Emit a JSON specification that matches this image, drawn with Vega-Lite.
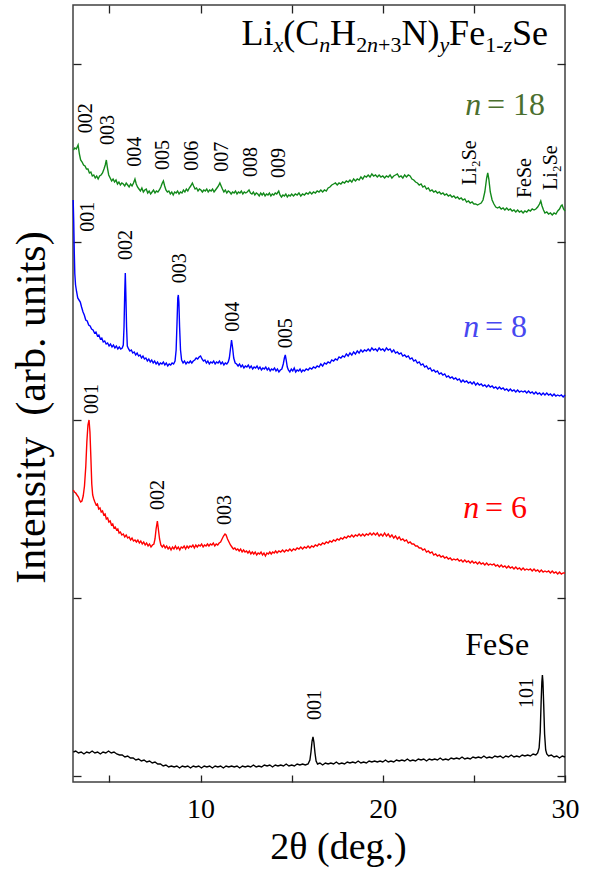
{
  "$schema": "https://vega.github.io/schema/vega-lite/v6.json",
  "width": 492,
  "height": 777,
  "autosize": {"type": "none"},
  "padding": {"left": 73, "top": 5, "right": 25, "bottom": 91},
  "background": "white",
  "config": {
    "view": {"stroke": "#404040", "strokeWidth": 1.5},
    "font": "Liberation Serif",
    "text": {"font": "Liberation Serif"},
    "axis": {"grid": false, "domain": false, "tickColor": "#222", "tickWidth": 1.3, "labelColor": "#000", "titleColor": "#000", "labelFont": "Liberation Serif", "titleFont": "Liberation Serif", "titleFontWeight": "normal"}
  },
  "datasets": {
    "xrd": [
{"s":"n18","x":3.02,"y":632},{"s":"n18","x":3.10,"y":634},{"s":"n18","x":3.18,"y":633},{"s":"n18","x":3.28,"y":637},{"s":"n18","x":3.35,"y":628},{"s":"n18","x":3.42,"y":622},{"s":"n18","x":3.50,"y":620},{"s":"n18","x":3.58,"y":617},{"s":"n18","x":3.66,"y":616},{"s":"n18","x":3.74,"y":613},{"s":"n18","x":3.82,"y":613},{"s":"n18","x":3.90,"y":609},{"s":"n18","x":3.98,"y":610},{"s":"n18","x":4.06,"y":606},{"s":"n18","x":4.14,"y":607},{"s":"n18","x":4.22,"y":604},{"s":"n18","x":4.30,"y":606},{"s":"n18","x":4.38,"y":603},{"s":"n18","x":4.46,"y":606},{"s":"n18","x":4.54,"y":607},{"s":"n18","x":4.62,"y":609},{"s":"n18","x":4.70,"y":613},{"s":"n18","x":4.77,"y":617},{"s":"n18","x":4.83,"y":622},{"s":"n18","x":4.89,"y":614},{"s":"n18","x":4.96,"y":607},{"s":"n18","x":5.04,"y":604},{"s":"n18","x":5.12,"y":601},{"s":"n18","x":5.20,"y":603},{"s":"n18","x":5.28,"y":600},{"s":"n18","x":5.36,"y":602},{"s":"n18","x":5.44,"y":598},{"s":"n18","x":5.52,"y":600},{"s":"n18","x":5.60,"y":597},{"s":"n18","x":5.68,"y":599},{"s":"n18","x":5.76,"y":598},{"s":"n18","x":5.84,"y":596},{"s":"n18","x":5.92,"y":599},{"s":"n18","x":6.00,"y":597},{"s":"n18","x":6.08,"y":595},{"s":"n18","x":6.16,"y":598},{"s":"n18","x":6.24,"y":596},{"s":"n18","x":6.32,"y":599},{"s":"n18","x":6.40,"y":603},{"s":"n18","x":6.47,"y":598},{"s":"n18","x":6.54,"y":595},{"s":"n18","x":6.62,"y":593},{"s":"n18","x":6.70,"y":591},{"s":"n18","x":6.78,"y":594},{"s":"n18","x":6.86,"y":590},{"s":"n18","x":6.94,"y":592},{"s":"n18","x":7.02,"y":593},{"s":"n18","x":7.10,"y":589},{"s":"n18","x":7.18,"y":591},{"s":"n18","x":7.26,"y":588},{"s":"n18","x":7.34,"y":590},{"s":"n18","x":7.42,"y":592},{"s":"n18","x":7.50,"y":589},{"s":"n18","x":7.58,"y":591},{"s":"n18","x":7.66,"y":590},{"s":"n18","x":7.74,"y":592},{"s":"n18","x":7.82,"y":595},{"s":"n18","x":7.90,"y":599},{"s":"n18","x":7.96,"y":601},{"s":"n18","x":8.03,"y":596},{"s":"n18","x":8.10,"y":592},{"s":"n18","x":8.18,"y":590},{"s":"n18","x":8.26,"y":591},{"s":"n18","x":8.34,"y":588},{"s":"n18","x":8.42,"y":590},{"s":"n18","x":8.50,"y":587},{"s":"n18","x":8.58,"y":590},{"s":"n18","x":8.66,"y":589},{"s":"n18","x":8.74,"y":591},{"s":"n18","x":8.82,"y":588},{"s":"n18","x":8.90,"y":590},{"s":"n18","x":8.98,"y":589},{"s":"n18","x":9.06,"y":592},{"s":"n18","x":9.14,"y":590},{"s":"n18","x":9.22,"y":593},{"s":"n18","x":9.30,"y":591},{"s":"n18","x":9.38,"y":594},{"s":"n18","x":9.46,"y":596},{"s":"n18","x":9.55,"y":599},{"s":"n18","x":9.62,"y":596},{"s":"n18","x":9.70,"y":593},{"s":"n18","x":9.78,"y":594},{"s":"n18","x":9.86,"y":591},{"s":"n18","x":9.94,"y":593},{"s":"n18","x":10.02,"y":592},{"s":"n18","x":10.10,"y":590},{"s":"n18","x":10.18,"y":592},{"s":"n18","x":10.26,"y":591},{"s":"n18","x":10.34,"y":593},{"s":"n18","x":10.42,"y":590},{"s":"n18","x":10.50,"y":592},{"s":"n18","x":10.58,"y":591},{"s":"n18","x":10.66,"y":593},{"s":"n18","x":10.74,"y":590},{"s":"n18","x":10.82,"y":592},{"s":"n18","x":10.90,"y":594},{"s":"n18","x":10.98,"y":596},{"s":"n18","x":11.06,"y":599},{"s":"n18","x":11.13,"y":596},{"s":"n18","x":11.20,"y":593},{"s":"n18","x":11.28,"y":590},{"s":"n18","x":11.36,"y":592},{"s":"n18","x":11.44,"y":589},{"s":"n18","x":11.52,"y":591},{"s":"n18","x":11.60,"y":590},{"s":"n18","x":11.68,"y":588},{"s":"n18","x":11.76,"y":590},{"s":"n18","x":11.84,"y":589},{"s":"n18","x":11.92,"y":591},{"s":"n18","x":12.00,"y":588},{"s":"n18","x":12.08,"y":590},{"s":"n18","x":12.16,"y":589},{"s":"n18","x":12.24,"y":591},{"s":"n18","x":12.32,"y":588},{"s":"n18","x":12.40,"y":590},{"s":"n18","x":12.48,"y":589},{"s":"n18","x":12.56,"y":590},{"s":"n18","x":12.66,"y":592},{"s":"n18","x":12.74,"y":589},{"s":"n18","x":12.82,"y":588},{"s":"n18","x":12.90,"y":590},{"s":"n18","x":12.98,"y":587},{"s":"n18","x":13.06,"y":589},{"s":"n18","x":13.14,"y":588},{"s":"n18","x":13.22,"y":586},{"s":"n18","x":13.30,"y":589},{"s":"n18","x":13.38,"y":587},{"s":"n18","x":13.46,"y":589},{"s":"n18","x":13.54,"y":586},{"s":"n18","x":13.62,"y":588},{"s":"n18","x":13.70,"y":587},{"s":"n18","x":13.78,"y":589},{"s":"n18","x":13.86,"y":586},{"s":"n18","x":13.94,"y":588},{"s":"n18","x":14.02,"y":587},{"s":"n18","x":14.10,"y":589},{"s":"n18","x":14.18,"y":588},{"s":"n18","x":14.29,"y":591},{"s":"n18","x":14.36,"y":587},{"s":"n18","x":14.44,"y":585},{"s":"n18","x":14.52,"y":587},{"s":"n18","x":14.60,"y":586},{"s":"n18","x":14.68,"y":588},{"s":"n18","x":14.76,"y":585},{"s":"n18","x":14.84,"y":587},{"s":"n18","x":14.92,"y":586},{"s":"n18","x":15.00,"y":588},{"s":"n18","x":15.10,"y":586},{"s":"n18","x":15.20,"y":588},{"s":"n18","x":15.30,"y":587},{"s":"n18","x":15.40,"y":589},{"s":"n18","x":15.50,"y":586},{"s":"n18","x":15.60,"y":588},{"s":"n18","x":15.70,"y":587},{"s":"n18","x":15.80,"y":589},{"s":"n18","x":15.90,"y":588},{"s":"n18","x":16.00,"y":590},{"s":"n18","x":16.10,"y":588},{"s":"n18","x":16.20,"y":590},{"s":"n18","x":16.30,"y":589},{"s":"n18","x":16.40,"y":591},{"s":"n18","x":16.50,"y":590},{"s":"n18","x":16.60,"y":592},{"s":"n18","x":16.70,"y":590},{"s":"n18","x":16.80,"y":592},{"s":"n18","x":16.90,"y":591},{"s":"n18","x":17.00,"y":594},{"s":"n18","x":17.10,"y":595},{"s":"n18","x":17.20,"y":597},{"s":"n18","x":17.30,"y":598},{"s":"n18","x":17.40,"y":599},{"s":"n18","x":17.50,"y":597},{"s":"n18","x":17.60,"y":599},{"s":"n18","x":17.70,"y":598},{"s":"n18","x":17.80,"y":600},{"s":"n18","x":17.90,"y":599},{"s":"n18","x":18.00,"y":601},{"s":"n18","x":18.10,"y":600},{"s":"n18","x":18.20,"y":602},{"s":"n18","x":18.30,"y":600},{"s":"n18","x":18.40,"y":603},{"s":"n18","x":18.50,"y":601},{"s":"n18","x":18.60,"y":603},{"s":"n18","x":18.70,"y":602},{"s":"n18","x":18.80,"y":605},{"s":"n18","x":18.90,"y":603},{"s":"n18","x":19.00,"y":606},{"s":"n18","x":19.10,"y":605},{"s":"n18","x":19.20,"y":607},{"s":"n18","x":19.30,"y":605},{"s":"n18","x":19.40,"y":608},{"s":"n18","x":19.50,"y":606},{"s":"n18","x":19.60,"y":607},{"s":"n18","x":19.70,"y":605},{"s":"n18","x":19.80,"y":607},{"s":"n18","x":19.90,"y":605},{"s":"n18","x":20.00,"y":606},{"s":"n18","x":20.10,"y":604},{"s":"n18","x":20.20,"y":606},{"s":"n18","x":20.30,"y":605},{"s":"n18","x":20.40,"y":607},{"s":"n18","x":20.50,"y":604},{"s":"n18","x":20.60,"y":606},{"s":"n18","x":20.70,"y":607},{"s":"n18","x":20.80,"y":608},{"s":"n18","x":20.90,"y":605},{"s":"n18","x":21.00,"y":606},{"s":"n18","x":21.10,"y":604},{"s":"n18","x":21.20,"y":607},{"s":"n18","x":21.30,"y":605},{"s":"n18","x":21.40,"y":607},{"s":"n18","x":21.50,"y":606},{"s":"n18","x":21.60,"y":603},{"s":"n18","x":21.70,"y":602},{"s":"n18","x":21.80,"y":600},{"s":"n18","x":21.90,"y":599},{"s":"n18","x":22.00,"y":597},{"s":"n18","x":22.10,"y":598},{"s":"n18","x":22.20,"y":595},{"s":"n18","x":22.30,"y":596},{"s":"n18","x":22.40,"y":593},{"s":"n18","x":22.50,"y":594},{"s":"n18","x":22.60,"y":591},{"s":"n18","x":22.70,"y":592},{"s":"n18","x":22.80,"y":590},{"s":"n18","x":22.90,"y":591},{"s":"n18","x":23.00,"y":589},{"s":"n18","x":23.10,"y":590},{"s":"n18","x":23.20,"y":588},{"s":"n18","x":23.30,"y":589},{"s":"n18","x":23.40,"y":587},{"s":"n18","x":23.50,"y":588},{"s":"n18","x":23.60,"y":586},{"s":"n18","x":23.70,"y":587},{"s":"n18","x":23.80,"y":585},{"s":"n18","x":23.90,"y":586},{"s":"n18","x":24.00,"y":584},{"s":"n18","x":24.10,"y":585},{"s":"n18","x":24.20,"y":583},{"s":"n18","x":24.30,"y":584},{"s":"n18","x":24.40,"y":582},{"s":"n18","x":24.50,"y":583},{"s":"n18","x":24.60,"y":580},{"s":"n18","x":24.70,"y":581},{"s":"n18","x":24.80,"y":579},{"s":"n18","x":24.90,"y":580},{"s":"n18","x":25.00,"y":578},{"s":"n18","x":25.10,"y":578},{"s":"n18","x":25.20,"y":577},{"s":"n18","x":25.30,"y":578},{"s":"n18","x":25.40,"y":579},{"s":"n18","x":25.50,"y":582},{"s":"n18","x":25.60,"y":590},{"s":"n18","x":25.70,"y":604},{"s":"n18","x":25.76,"y":609},{"s":"n18","x":25.82,"y":603},{"s":"n18","x":25.90,"y":590},{"s":"n18","x":26.00,"y":582},{"s":"n18","x":26.10,"y":578},{"s":"n18","x":26.20,"y":575},{"s":"n18","x":26.30,"y":574},{"s":"n18","x":26.40,"y":575},{"s":"n18","x":26.50,"y":573},{"s":"n18","x":26.60,"y":574},{"s":"n18","x":26.70,"y":572},{"s":"n18","x":26.80,"y":574},{"s":"n18","x":26.90,"y":572},{"s":"n18","x":27.00,"y":573},{"s":"n18","x":27.10,"y":571},{"s":"n18","x":27.20,"y":572},{"s":"n18","x":27.30,"y":570},{"s":"n18","x":27.40,"y":572},{"s":"n18","x":27.50,"y":570},{"s":"n18","x":27.60,"y":571},{"s":"n18","x":27.70,"y":569},{"s":"n18","x":27.80,"y":571},{"s":"n18","x":27.90,"y":570},{"s":"n18","x":28.00,"y":572},{"s":"n18","x":28.10,"y":571},{"s":"n18","x":28.20,"y":573},{"s":"n18","x":28.30,"y":572},{"s":"n18","x":28.40,"y":573},{"s":"n18","x":28.50,"y":575},{"s":"n18","x":28.60,"y":578},{"s":"n18","x":28.67,"y":581},{"s":"n18","x":28.74,"y":576},{"s":"n18","x":28.82,"y":572},{"s":"n18","x":28.90,"y":569},{"s":"n18","x":29.00,"y":570},{"s":"n18","x":29.10,"y":568},{"s":"n18","x":29.20,"y":569},{"s":"n18","x":29.30,"y":567},{"s":"n18","x":29.40,"y":569},{"s":"n18","x":29.50,"y":568},{"s":"n18","x":29.60,"y":571},{"s":"n18","x":29.70,"y":573},{"s":"n18","x":29.78,"y":576},{"s":"n18","x":29.84,"y":577},{"s":"n18","x":29.92,"y":573},{"s":"n18","x":30.00,"y":571},

{"s":"n8","x":3.01,"y":582},{"s":"n8","x":3.04,"y":560},{"s":"n8","x":3.07,"y":530},{"s":"n8","x":3.10,"y":508},{"s":"n8","x":3.14,"y":497},{"s":"n8","x":3.20,"y":490},{"s":"n8","x":3.26,"y":484},{"s":"n8","x":3.33,"y":482},{"s":"n8","x":3.40,"y":480},{"s":"n8","x":3.47,"y":475},{"s":"n8","x":3.55,"y":470},{"s":"n8","x":3.62,"y":467},{"s":"n8","x":3.70,"y":462},{"s":"n8","x":3.78,"y":461},{"s":"n8","x":3.86,"y":457},{"s":"n8","x":3.94,"y":456},{"s":"n8","x":4.02,"y":453},{"s":"n8","x":4.10,"y":452},{"s":"n8","x":4.18,"y":449},{"s":"n8","x":4.26,"y":450},{"s":"n8","x":4.34,"y":446},{"s":"n8","x":4.42,"y":447},{"s":"n8","x":4.50,"y":443},{"s":"n8","x":4.58,"y":444},{"s":"n8","x":4.66,"y":440},{"s":"n8","x":4.74,"y":441},{"s":"n8","x":4.82,"y":438},{"s":"n8","x":4.90,"y":439},{"s":"n8","x":4.98,"y":436},{"s":"n8","x":5.06,"y":438},{"s":"n8","x":5.14,"y":435},{"s":"n8","x":5.22,"y":437},{"s":"n8","x":5.30,"y":434},{"s":"n8","x":5.38,"y":436},{"s":"n8","x":5.46,"y":433},{"s":"n8","x":5.54,"y":435},{"s":"n8","x":5.62,"y":433},{"s":"n8","x":5.70,"y":434},{"s":"n8","x":5.76,"y":437},{"s":"n8","x":5.80,"y":455},{"s":"n8","x":5.84,"y":490},{"s":"n8","x":5.87,"y":509},{"s":"n8","x":5.90,"y":488},{"s":"n8","x":5.94,"y":455},{"s":"n8","x":5.98,"y":436},{"s":"n8","x":6.05,"y":433},{"s":"n8","x":6.12,"y":431},{"s":"n8","x":6.20,"y":432},{"s":"n8","x":6.28,"y":429},{"s":"n8","x":6.36,"y":430},{"s":"n8","x":6.44,"y":427},{"s":"n8","x":6.52,"y":429},{"s":"n8","x":6.60,"y":426},{"s":"n8","x":6.68,"y":427},{"s":"n8","x":6.76,"y":424},{"s":"n8","x":6.84,"y":426},{"s":"n8","x":6.92,"y":423},{"s":"n8","x":7.00,"y":424},{"s":"n8","x":7.08,"y":421},{"s":"n8","x":7.16,"y":423},{"s":"n8","x":7.24,"y":420},{"s":"n8","x":7.32,"y":422},{"s":"n8","x":7.40,"y":419},{"s":"n8","x":7.48,"y":421},{"s":"n8","x":7.56,"y":418},{"s":"n8","x":7.64,"y":420},{"s":"n8","x":7.72,"y":417},{"s":"n8","x":7.80,"y":419},{"s":"n8","x":7.88,"y":418},{"s":"n8","x":7.96,"y":420},{"s":"n8","x":8.04,"y":417},{"s":"n8","x":8.12,"y":419},{"s":"n8","x":8.20,"y":416},{"s":"n8","x":8.28,"y":418},{"s":"n8","x":8.36,"y":417},{"s":"n8","x":8.44,"y":419},{"s":"n8","x":8.52,"y":418},{"s":"n8","x":8.60,"y":421},{"s":"n8","x":8.66,"y":432},{"s":"n8","x":8.71,"y":460},{"s":"n8","x":8.75,"y":484},{"s":"n8","x":8.78,"y":487},{"s":"n8","x":8.81,"y":480},{"s":"n8","x":8.85,"y":455},{"s":"n8","x":8.90,"y":432},{"s":"n8","x":8.96,"y":422},{"s":"n8","x":9.04,"y":419},{"s":"n8","x":9.12,"y":421},{"s":"n8","x":9.20,"y":418},{"s":"n8","x":9.28,"y":420},{"s":"n8","x":9.36,"y":419},{"s":"n8","x":9.44,"y":421},{"s":"n8","x":9.52,"y":419},{"s":"n8","x":9.60,"y":421},{"s":"n8","x":9.68,"y":422},{"s":"n8","x":9.76,"y":424},{"s":"n8","x":9.84,"y":423},{"s":"n8","x":9.92,"y":425},{"s":"n8","x":10.00,"y":426},{"s":"n8","x":10.08,"y":423},{"s":"n8","x":10.16,"y":421},{"s":"n8","x":10.24,"y":422},{"s":"n8","x":10.32,"y":419},{"s":"n8","x":10.40,"y":421},{"s":"n8","x":10.48,"y":418},{"s":"n8","x":10.56,"y":420},{"s":"n8","x":10.64,"y":419},{"s":"n8","x":10.72,"y":421},{"s":"n8","x":10.80,"y":418},{"s":"n8","x":10.88,"y":420},{"s":"n8","x":10.96,"y":419},{"s":"n8","x":11.04,"y":421},{"s":"n8","x":11.12,"y":418},{"s":"n8","x":11.20,"y":420},{"s":"n8","x":11.28,"y":417},{"s":"n8","x":11.36,"y":419},{"s":"n8","x":11.44,"y":418},{"s":"n8","x":11.52,"y":420},{"s":"n8","x":11.58,"y":424},{"s":"n8","x":11.64,"y":433},{"s":"n8","x":11.70,"y":442},{"s":"n8","x":11.76,"y":434},{"s":"n8","x":11.82,"y":424},{"s":"n8","x":11.90,"y":419},{"s":"n8","x":11.98,"y":418},{"s":"n8","x":12.06,"y":416},{"s":"n8","x":12.14,"y":418},{"s":"n8","x":12.22,"y":415},{"s":"n8","x":12.30,"y":417},{"s":"n8","x":12.38,"y":414},{"s":"n8","x":12.46,"y":416},{"s":"n8","x":12.54,"y":415},{"s":"n8","x":12.62,"y":417},{"s":"n8","x":12.70,"y":414},{"s":"n8","x":12.78,"y":416},{"s":"n8","x":12.86,"y":413},{"s":"n8","x":12.94,"y":415},{"s":"n8","x":13.02,"y":414},{"s":"n8","x":13.10,"y":416},{"s":"n8","x":13.18,"y":413},{"s":"n8","x":13.26,"y":415},{"s":"n8","x":13.34,"y":412},{"s":"n8","x":13.42,"y":414},{"s":"n8","x":13.50,"y":413},{"s":"n8","x":13.58,"y":415},{"s":"n8","x":13.66,"y":412},{"s":"n8","x":13.74,"y":414},{"s":"n8","x":13.82,"y":411},{"s":"n8","x":13.90,"y":413},{"s":"n8","x":13.98,"y":412},{"s":"n8","x":14.06,"y":414},{"s":"n8","x":14.14,"y":411},{"s":"n8","x":14.22,"y":413},{"s":"n8","x":14.30,"y":410},{"s":"n8","x":14.38,"y":412},{"s":"n8","x":14.46,"y":413},{"s":"n8","x":14.54,"y":418},{"s":"n8","x":14.60,"y":424},{"s":"n8","x":14.65,"y":427},{"s":"n8","x":14.70,"y":422},{"s":"n8","x":14.76,"y":415},{"s":"n8","x":14.82,"y":412},{"s":"n8","x":14.90,"y":410},{"s":"n8","x":14.98,"y":413},{"s":"n8","x":15.06,"y":411},{"s":"n8","x":15.14,"y":414},{"s":"n8","x":15.22,"y":410},{"s":"n8","x":15.30,"y":412},{"s":"n8","x":15.38,"y":411},{"s":"n8","x":15.46,"y":413},{"s":"n8","x":15.54,"y":410},{"s":"n8","x":15.62,"y":412},{"s":"n8","x":15.70,"y":411},{"s":"n8","x":15.80,"y":413},{"s":"n8","x":15.90,"y":412},{"s":"n8","x":16.00,"y":414},{"s":"n8","x":16.10,"y":413},{"s":"n8","x":16.20,"y":415},{"s":"n8","x":16.30,"y":414},{"s":"n8","x":16.40,"y":416},{"s":"n8","x":16.50,"y":415},{"s":"n8","x":16.60,"y":418},{"s":"n8","x":16.70,"y":416},{"s":"n8","x":16.80,"y":419},{"s":"n8","x":16.90,"y":418},{"s":"n8","x":17.00,"y":420},{"s":"n8","x":17.10,"y":419},{"s":"n8","x":17.20,"y":422},{"s":"n8","x":17.30,"y":421},{"s":"n8","x":17.40,"y":423},{"s":"n8","x":17.50,"y":422},{"s":"n8","x":17.60,"y":425},{"s":"n8","x":17.70,"y":424},{"s":"n8","x":17.80,"y":426},{"s":"n8","x":17.90,"y":425},{"s":"n8","x":18.00,"y":428},{"s":"n8","x":18.10,"y":426},{"s":"n8","x":18.20,"y":429},{"s":"n8","x":18.30,"y":427},{"s":"n8","x":18.40,"y":430},{"s":"n8","x":18.50,"y":428},{"s":"n8","x":18.60,"y":431},{"s":"n8","x":18.70,"y":429},{"s":"n8","x":18.80,"y":432},{"s":"n8","x":18.90,"y":430},{"s":"n8","x":19.00,"y":432},{"s":"n8","x":19.10,"y":431},{"s":"n8","x":19.20,"y":433},{"s":"n8","x":19.30,"y":431},{"s":"n8","x":19.40,"y":434},{"s":"n8","x":19.50,"y":432},{"s":"n8","x":19.60,"y":433},{"s":"n8","x":19.70,"y":431},{"s":"n8","x":19.80,"y":434},{"s":"n8","x":19.90,"y":432},{"s":"n8","x":20.00,"y":433},{"s":"n8","x":20.10,"y":431},{"s":"n8","x":20.20,"y":434},{"s":"n8","x":20.30,"y":432},{"s":"n8","x":20.40,"y":433},{"s":"n8","x":20.50,"y":430},{"s":"n8","x":20.60,"y":432},{"s":"n8","x":20.70,"y":429},{"s":"n8","x":20.80,"y":430},{"s":"n8","x":20.90,"y":428},{"s":"n8","x":21.00,"y":429},{"s":"n8","x":21.10,"y":426},{"s":"n8","x":21.20,"y":427},{"s":"n8","x":21.30,"y":425},{"s":"n8","x":21.40,"y":426},{"s":"n8","x":21.50,"y":423},{"s":"n8","x":21.60,"y":424},{"s":"n8","x":21.70,"y":421},{"s":"n8","x":21.80,"y":422},{"s":"n8","x":21.90,"y":419},{"s":"n8","x":22.00,"y":420},{"s":"n8","x":22.10,"y":417},{"s":"n8","x":22.20,"y":418},{"s":"n8","x":22.30,"y":415},{"s":"n8","x":22.40,"y":416},{"s":"n8","x":22.50,"y":413},{"s":"n8","x":22.60,"y":414},{"s":"n8","x":22.70,"y":411},{"s":"n8","x":22.80,"y":412},{"s":"n8","x":22.90,"y":410},{"s":"n8","x":23.00,"y":411},{"s":"n8","x":23.10,"y":408},{"s":"n8","x":23.20,"y":409},{"s":"n8","x":23.30,"y":407},{"s":"n8","x":23.40,"y":408},{"s":"n8","x":23.50,"y":405},{"s":"n8","x":23.60,"y":406},{"s":"n8","x":23.70,"y":404},{"s":"n8","x":23.80,"y":405},{"s":"n8","x":23.90,"y":403},{"s":"n8","x":24.00,"y":404},{"s":"n8","x":24.10,"y":402},{"s":"n8","x":24.20,"y":403},{"s":"n8","x":24.30,"y":400},{"s":"n8","x":24.40,"y":402},{"s":"n8","x":24.50,"y":400},{"s":"n8","x":24.60,"y":401},{"s":"n8","x":24.70,"y":399},{"s":"n8","x":24.80,"y":400},{"s":"n8","x":24.90,"y":398},{"s":"n8","x":25.00,"y":400},{"s":"n8","x":25.10,"y":397},{"s":"n8","x":25.20,"y":399},{"s":"n8","x":25.30,"y":397},{"s":"n8","x":25.40,"y":398},{"s":"n8","x":25.50,"y":396},{"s":"n8","x":25.60,"y":397},{"s":"n8","x":25.70,"y":395},{"s":"n8","x":25.80,"y":397},{"s":"n8","x":25.90,"y":395},{"s":"n8","x":26.00,"y":396},{"s":"n8","x":26.10,"y":394},{"s":"n8","x":26.20,"y":395},{"s":"n8","x":26.30,"y":393},{"s":"n8","x":26.40,"y":395},{"s":"n8","x":26.50,"y":393},{"s":"n8","x":26.60,"y":394},{"s":"n8","x":26.70,"y":392},{"s":"n8","x":26.80,"y":393},{"s":"n8","x":26.90,"y":391},{"s":"n8","x":27.00,"y":393},{"s":"n8","x":27.10,"y":391},{"s":"n8","x":27.20,"y":392},{"s":"n8","x":27.30,"y":390},{"s":"n8","x":27.40,"y":392},{"s":"n8","x":27.50,"y":390},{"s":"n8","x":27.60,"y":391},{"s":"n8","x":27.70,"y":390},{"s":"n8","x":27.80,"y":391},{"s":"n8","x":27.90,"y":389},{"s":"n8","x":28.00,"y":391},{"s":"n8","x":28.10,"y":389},{"s":"n8","x":28.20,"y":390},{"s":"n8","x":28.30,"y":388},{"s":"n8","x":28.40,"y":390},{"s":"n8","x":28.50,"y":388},{"s":"n8","x":28.60,"y":389},{"s":"n8","x":28.70,"y":387},{"s":"n8","x":28.80,"y":389},{"s":"n8","x":28.90,"y":387},{"s":"n8","x":29.00,"y":389},{"s":"n8","x":29.10,"y":387},{"s":"n8","x":29.20,"y":388},{"s":"n8","x":29.30,"y":386},{"s":"n8","x":29.40,"y":388},{"s":"n8","x":29.50,"y":386},{"s":"n8","x":29.60,"y":387},{"s":"n8","x":29.70,"y":386},{"s":"n8","x":29.80,"y":387},{"s":"n8","x":29.90,"y":385},{"s":"n8","x":30.00,"y":387},

{"s":"n6","x":3.02,"y":292},{"s":"n6","x":3.08,"y":290},{"s":"n6","x":3.15,"y":289},{"s":"n6","x":3.22,"y":287},{"s":"n6","x":3.30,"y":285},{"s":"n6","x":3.36,"y":282},{"s":"n6","x":3.42,"y":280},{"s":"n6","x":3.49,"y":281},{"s":"n6","x":3.56,"y":286},{"s":"n6","x":3.63,"y":296},{"s":"n6","x":3.70,"y":315},{"s":"n6","x":3.76,"y":340},{"s":"n6","x":3.82,"y":357},{"s":"n6","x":3.88,"y":362},{"s":"n6","x":3.93,"y":350},{"s":"n6","x":3.98,"y":325},{"s":"n6","x":4.03,"y":298},{"s":"n6","x":4.08,"y":287},{"s":"n6","x":4.14,"y":283},{"s":"n6","x":4.20,"y":280},{"s":"n6","x":4.27,"y":277},{"s":"n6","x":4.34,"y":278},{"s":"n6","x":4.41,"y":273},{"s":"n6","x":4.48,"y":274},{"s":"n6","x":4.55,"y":270},{"s":"n6","x":4.62,"y":271},{"s":"n6","x":4.69,"y":267},{"s":"n6","x":4.76,"y":268},{"s":"n6","x":4.83,"y":263},{"s":"n6","x":4.90,"y":264},{"s":"n6","x":4.97,"y":260},{"s":"n6","x":5.04,"y":261},{"s":"n6","x":5.11,"y":257},{"s":"n6","x":5.18,"y":258},{"s":"n6","x":5.25,"y":254},{"s":"n6","x":5.32,"y":255},{"s":"n6","x":5.39,"y":252},{"s":"n6","x":5.46,"y":253},{"s":"n6","x":5.53,"y":249},{"s":"n6","x":5.60,"y":250},{"s":"n6","x":5.68,"y":247},{"s":"n6","x":5.76,"y":248},{"s":"n6","x":5.84,"y":245},{"s":"n6","x":5.92,"y":247},{"s":"n6","x":6.00,"y":244},{"s":"n6","x":6.08,"y":245},{"s":"n6","x":6.16,"y":242},{"s":"n6","x":6.24,"y":244},{"s":"n6","x":6.32,"y":241},{"s":"n6","x":6.40,"y":242},{"s":"n6","x":6.48,"y":240},{"s":"n6","x":6.56,"y":242},{"s":"n6","x":6.64,"y":239},{"s":"n6","x":6.72,"y":241},{"s":"n6","x":6.80,"y":238},{"s":"n6","x":6.88,"y":240},{"s":"n6","x":6.96,"y":237},{"s":"n6","x":7.04,"y":239},{"s":"n6","x":7.12,"y":236},{"s":"n6","x":7.20,"y":238},{"s":"n6","x":7.28,"y":235},{"s":"n6","x":7.36,"y":237},{"s":"n6","x":7.44,"y":238},{"s":"n6","x":7.50,"y":243},{"s":"n6","x":7.56,"y":253},{"s":"n6","x":7.63,"y":261},{"s":"n6","x":7.69,"y":252},{"s":"n6","x":7.75,"y":243},{"s":"n6","x":7.82,"y":237},{"s":"n6","x":7.90,"y":235},{"s":"n6","x":7.98,"y":237},{"s":"n6","x":8.06,"y":234},{"s":"n6","x":8.14,"y":236},{"s":"n6","x":8.22,"y":233},{"s":"n6","x":8.30,"y":235},{"s":"n6","x":8.38,"y":232},{"s":"n6","x":8.46,"y":235},{"s":"n6","x":8.54,"y":233},{"s":"n6","x":8.62,"y":236},{"s":"n6","x":8.70,"y":233},{"s":"n6","x":8.78,"y":235},{"s":"n6","x":8.86,"y":232},{"s":"n6","x":8.94,"y":235},{"s":"n6","x":9.02,"y":234},{"s":"n6","x":9.10,"y":236},{"s":"n6","x":9.18,"y":233},{"s":"n6","x":9.26,"y":236},{"s":"n6","x":9.34,"y":234},{"s":"n6","x":9.42,"y":236},{"s":"n6","x":9.50,"y":235},{"s":"n6","x":9.58,"y":237},{"s":"n6","x":9.66,"y":234},{"s":"n6","x":9.74,"y":237},{"s":"n6","x":9.82,"y":235},{"s":"n6","x":9.90,"y":237},{"s":"n6","x":9.98,"y":236},{"s":"n6","x":10.06,"y":238},{"s":"n6","x":10.14,"y":235},{"s":"n6","x":10.22,"y":237},{"s":"n6","x":10.30,"y":236},{"s":"n6","x":10.38,"y":238},{"s":"n6","x":10.46,"y":236},{"s":"n6","x":10.54,"y":238},{"s":"n6","x":10.62,"y":237},{"s":"n6","x":10.70,"y":239},{"s":"n6","x":10.78,"y":236},{"s":"n6","x":10.86,"y":238},{"s":"n6","x":10.94,"y":237},{"s":"n6","x":11.02,"y":239},{"s":"n6","x":11.10,"y":240},{"s":"n6","x":11.18,"y":243},{"s":"n6","x":11.26,"y":246},{"s":"n6","x":11.34,"y":248},{"s":"n6","x":11.40,"y":247},{"s":"n6","x":11.48,"y":243},{"s":"n6","x":11.56,"y":240},{"s":"n6","x":11.64,"y":237},{"s":"n6","x":11.72,"y":235},{"s":"n6","x":11.80,"y":233},{"s":"n6","x":11.88,"y":234},{"s":"n6","x":11.96,"y":232},{"s":"n6","x":12.04,"y":233},{"s":"n6","x":12.12,"y":231},{"s":"n6","x":12.20,"y":233},{"s":"n6","x":12.28,"y":230},{"s":"n6","x":12.36,"y":232},{"s":"n6","x":12.44,"y":230},{"s":"n6","x":12.52,"y":231},{"s":"n6","x":12.60,"y":229},{"s":"n6","x":12.68,"y":231},{"s":"n6","x":12.76,"y":228},{"s":"n6","x":12.84,"y":230},{"s":"n6","x":12.92,"y":228},{"s":"n6","x":13.00,"y":230},{"s":"n6","x":13.08,"y":227},{"s":"n6","x":13.16,"y":229},{"s":"n6","x":13.24,"y":228},{"s":"n6","x":13.32,"y":230},{"s":"n6","x":13.40,"y":227},{"s":"n6","x":13.48,"y":229},{"s":"n6","x":13.56,"y":226},{"s":"n6","x":13.64,"y":229},{"s":"n6","x":13.72,"y":228},{"s":"n6","x":13.80,"y":230},{"s":"n6","x":13.88,"y":228},{"s":"n6","x":13.96,"y":230},{"s":"n6","x":14.04,"y":229},{"s":"n6","x":14.12,"y":231},{"s":"n6","x":14.20,"y":229},{"s":"n6","x":14.30,"y":231},{"s":"n6","x":14.40,"y":230},{"s":"n6","x":14.50,"y":232},{"s":"n6","x":14.60,"y":230},{"s":"n6","x":14.70,"y":232},{"s":"n6","x":14.80,"y":231},{"s":"n6","x":14.90,"y":233},{"s":"n6","x":15.00,"y":231},{"s":"n6","x":15.10,"y":233},{"s":"n6","x":15.20,"y":232},{"s":"n6","x":15.30,"y":234},{"s":"n6","x":15.40,"y":233},{"s":"n6","x":15.50,"y":235},{"s":"n6","x":15.60,"y":233},{"s":"n6","x":15.70,"y":235},{"s":"n6","x":15.80,"y":234},{"s":"n6","x":15.90,"y":236},{"s":"n6","x":16.00,"y":234},{"s":"n6","x":16.10,"y":236},{"s":"n6","x":16.20,"y":235},{"s":"n6","x":16.30,"y":237},{"s":"n6","x":16.40,"y":236},{"s":"n6","x":16.50,"y":238},{"s":"n6","x":16.60,"y":237},{"s":"n6","x":16.70,"y":239},{"s":"n6","x":16.80,"y":238},{"s":"n6","x":16.90,"y":240},{"s":"n6","x":17.00,"y":239},{"s":"n6","x":17.10,"y":241},{"s":"n6","x":17.20,"y":240},{"s":"n6","x":17.30,"y":242},{"s":"n6","x":17.40,"y":241},{"s":"n6","x":17.50,"y":243},{"s":"n6","x":17.60,"y":242},{"s":"n6","x":17.70,"y":244},{"s":"n6","x":17.80,"y":243},{"s":"n6","x":17.90,"y":245},{"s":"n6","x":18.00,"y":244},{"s":"n6","x":18.10,"y":246},{"s":"n6","x":18.20,"y":245},{"s":"n6","x":18.30,"y":247},{"s":"n6","x":18.40,"y":245},{"s":"n6","x":18.50,"y":247},{"s":"n6","x":18.60,"y":246},{"s":"n6","x":18.70,"y":248},{"s":"n6","x":18.80,"y":246},{"s":"n6","x":18.90,"y":248},{"s":"n6","x":19.00,"y":246},{"s":"n6","x":19.10,"y":248},{"s":"n6","x":19.20,"y":247},{"s":"n6","x":19.30,"y":249},{"s":"n6","x":19.40,"y":247},{"s":"n6","x":19.50,"y":249},{"s":"n6","x":19.60,"y":247},{"s":"n6","x":19.70,"y":249},{"s":"n6","x":19.80,"y":246},{"s":"n6","x":19.90,"y":248},{"s":"n6","x":20.00,"y":246},{"s":"n6","x":20.10,"y":249},{"s":"n6","x":20.20,"y":246},{"s":"n6","x":20.30,"y":248},{"s":"n6","x":20.40,"y":245},{"s":"n6","x":20.50,"y":247},{"s":"n6","x":20.60,"y":244},{"s":"n6","x":20.70,"y":246},{"s":"n6","x":20.80,"y":243},{"s":"n6","x":20.90,"y":245},{"s":"n6","x":21.00,"y":242},{"s":"n6","x":21.10,"y":243},{"s":"n6","x":21.20,"y":241},{"s":"n6","x":21.30,"y":242},{"s":"n6","x":21.40,"y":239},{"s":"n6","x":21.50,"y":240},{"s":"n6","x":21.60,"y":238},{"s":"n6","x":21.70,"y":238},{"s":"n6","x":21.80,"y":236},{"s":"n6","x":21.90,"y":236},{"s":"n6","x":22.00,"y":234},{"s":"n6","x":22.10,"y":234},{"s":"n6","x":22.20,"y":232},{"s":"n6","x":22.30,"y":233},{"s":"n6","x":22.40,"y":230},{"s":"n6","x":22.50,"y":231},{"s":"n6","x":22.60,"y":229},{"s":"n6","x":22.70,"y":230},{"s":"n6","x":22.80,"y":227},{"s":"n6","x":22.90,"y":228},{"s":"n6","x":23.00,"y":226},{"s":"n6","x":23.10,"y":227},{"s":"n6","x":23.20,"y":225},{"s":"n6","x":23.30,"y":226},{"s":"n6","x":23.40,"y":224},{"s":"n6","x":23.50,"y":225},{"s":"n6","x":23.60,"y":223},{"s":"n6","x":23.70,"y":224},{"s":"n6","x":23.80,"y":222},{"s":"n6","x":23.90,"y":223},{"s":"n6","x":24.00,"y":222},{"s":"n6","x":24.10,"y":223},{"s":"n6","x":24.20,"y":221},{"s":"n6","x":24.30,"y":222},{"s":"n6","x":24.40,"y":220},{"s":"n6","x":24.50,"y":222},{"s":"n6","x":24.60,"y":220},{"s":"n6","x":24.70,"y":221},{"s":"n6","x":24.80,"y":219},{"s":"n6","x":24.90,"y":221},{"s":"n6","x":25.00,"y":219},{"s":"n6","x":25.10,"y":220},{"s":"n6","x":25.20,"y":218},{"s":"n6","x":25.30,"y":220},{"s":"n6","x":25.40,"y":218},{"s":"n6","x":25.50,"y":219},{"s":"n6","x":25.60,"y":217},{"s":"n6","x":25.70,"y":219},{"s":"n6","x":25.80,"y":217},{"s":"n6","x":25.90,"y":218},{"s":"n6","x":26.00,"y":217},{"s":"n6","x":26.10,"y":218},{"s":"n6","x":26.20,"y":216},{"s":"n6","x":26.30,"y":217},{"s":"n6","x":26.40,"y":215},{"s":"n6","x":26.50,"y":217},{"s":"n6","x":26.60,"y":215},{"s":"n6","x":26.70,"y":216},{"s":"n6","x":26.80,"y":214},{"s":"n6","x":26.90,"y":216},{"s":"n6","x":27.00,"y":214},{"s":"n6","x":27.10,"y":215},{"s":"n6","x":27.20,"y":213},{"s":"n6","x":27.30,"y":215},{"s":"n6","x":27.40,"y":213},{"s":"n6","x":27.50,"y":214},{"s":"n6","x":27.60,"y":212},{"s":"n6","x":27.70,"y":214},{"s":"n6","x":27.80,"y":212},{"s":"n6","x":27.90,"y":213},{"s":"n6","x":28.00,"y":212},{"s":"n6","x":28.10,"y":213},{"s":"n6","x":28.20,"y":211},{"s":"n6","x":28.30,"y":213},{"s":"n6","x":28.40,"y":211},{"s":"n6","x":28.50,"y":212},{"s":"n6","x":28.60,"y":210},{"s":"n6","x":28.70,"y":212},{"s":"n6","x":28.80,"y":210},{"s":"n6","x":28.90,"y":211},{"s":"n6","x":29.00,"y":210},{"s":"n6","x":29.10,"y":211},{"s":"n6","x":29.20,"y":209},{"s":"n6","x":29.30,"y":211},{"s":"n6","x":29.40,"y":209},{"s":"n6","x":29.50,"y":210},{"s":"n6","x":29.60,"y":208},{"s":"n6","x":29.70,"y":210},{"s":"n6","x":29.80,"y":208},{"s":"n6","x":29.90,"y":209},{"s":"n6","x":30.00,"y":209},

{"s":"FeSe","x":3.02,"y":30},{"s":"FeSe","x":3.15,"y":31},{"s":"FeSe","x":3.30,"y":29},{"s":"FeSe","x":3.45,"y":30},{"s":"FeSe","x":3.60,"y":28},{"s":"FeSe","x":3.75,"y":30},{"s":"FeSe","x":3.90,"y":29},{"s":"FeSe","x":4.05,"y":31},{"s":"FeSe","x":4.20,"y":29},{"s":"FeSe","x":4.35,"y":30},{"s":"FeSe","x":4.50,"y":28},{"s":"FeSe","x":4.65,"y":30},{"s":"FeSe","x":4.80,"y":29},{"s":"FeSe","x":4.95,"y":31},{"s":"FeSe","x":5.10,"y":29},{"s":"FeSe","x":5.25,"y":30},{"s":"FeSe","x":5.40,"y":28},{"s":"FeSe","x":5.55,"y":27},{"s":"FeSe","x":5.70,"y":27},{"s":"FeSe","x":5.85,"y":25},{"s":"FeSe","x":6.00,"y":26},{"s":"FeSe","x":6.15,"y":24},{"s":"FeSe","x":6.30,"y":24},{"s":"FeSe","x":6.45,"y":22},{"s":"FeSe","x":6.60,"y":23},{"s":"FeSe","x":6.75,"y":21},{"s":"FeSe","x":6.90,"y":22},{"s":"FeSe","x":7.05,"y":20},{"s":"FeSe","x":7.20,"y":21},{"s":"FeSe","x":7.35,"y":19},{"s":"FeSe","x":7.50,"y":20},{"s":"FeSe","x":7.65,"y":18},{"s":"FeSe","x":7.80,"y":18},{"s":"FeSe","x":7.95,"y":16},{"s":"FeSe","x":8.10,"y":17},{"s":"FeSe","x":8.25,"y":15},{"s":"FeSe","x":8.40,"y":16},{"s":"FeSe","x":8.55,"y":15},{"s":"FeSe","x":8.70,"y":16},{"s":"FeSe","x":8.85,"y":14},{"s":"FeSe","x":9.00,"y":16},{"s":"FeSe","x":9.15,"y":15},{"s":"FeSe","x":9.30,"y":16},{"s":"FeSe","x":9.45,"y":14},{"s":"FeSe","x":9.60,"y":16},{"s":"FeSe","x":9.75,"y":15},{"s":"FeSe","x":9.90,"y":16},{"s":"FeSe","x":10.05,"y":14},{"s":"FeSe","x":10.20,"y":16},{"s":"FeSe","x":10.35,"y":15},{"s":"FeSe","x":10.50,"y":16},{"s":"FeSe","x":10.65,"y":14},{"s":"FeSe","x":10.80,"y":16},{"s":"FeSe","x":10.95,"y":15},{"s":"FeSe","x":11.10,"y":16},{"s":"FeSe","x":11.25,"y":14},{"s":"FeSe","x":11.40,"y":16},{"s":"FeSe","x":11.55,"y":15},{"s":"FeSe","x":11.70,"y":16},{"s":"FeSe","x":11.85,"y":15},{"s":"FeSe","x":12.00,"y":16},{"s":"FeSe","x":12.15,"y":14},{"s":"FeSe","x":12.30,"y":16},{"s":"FeSe","x":12.45,"y":15},{"s":"FeSe","x":12.60,"y":16},{"s":"FeSe","x":12.75,"y":15},{"s":"FeSe","x":12.90,"y":17},{"s":"FeSe","x":13.05,"y":15},{"s":"FeSe","x":13.20,"y":16},{"s":"FeSe","x":13.35,"y":15},{"s":"FeSe","x":13.50,"y":17},{"s":"FeSe","x":13.65,"y":16},{"s":"FeSe","x":13.80,"y":17},{"s":"FeSe","x":13.95,"y":15},{"s":"FeSe","x":14.10,"y":17},{"s":"FeSe","x":14.25,"y":16},{"s":"FeSe","x":14.40,"y":17},{"s":"FeSe","x":14.55,"y":16},{"s":"FeSe","x":14.70,"y":18},{"s":"FeSe","x":14.85,"y":16},{"s":"FeSe","x":15.00,"y":17},{"s":"FeSe","x":15.15,"y":16},{"s":"FeSe","x":15.30,"y":18},{"s":"FeSe","x":15.45,"y":17},{"s":"FeSe","x":15.60,"y":18},{"s":"FeSe","x":15.75,"y":17},{"s":"FeSe","x":15.90,"y":18},{"s":"FeSe","x":16.00,"y":22},{"s":"FeSe","x":16.06,"y":30},{"s":"FeSe","x":16.12,"y":41},{"s":"FeSe","x":16.17,"y":45},{"s":"FeSe","x":16.22,"y":40},{"s":"FeSe","x":16.28,"y":29},{"s":"FeSe","x":16.34,"y":21},{"s":"FeSe","x":16.42,"y":18},{"s":"FeSe","x":16.55,"y":19},{"s":"FeSe","x":16.70,"y":17},{"s":"FeSe","x":16.85,"y":19},{"s":"FeSe","x":17.00,"y":18},{"s":"FeSe","x":17.15,"y":19},{"s":"FeSe","x":17.30,"y":18},{"s":"FeSe","x":17.45,"y":20},{"s":"FeSe","x":17.60,"y":18},{"s":"FeSe","x":17.75,"y":19},{"s":"FeSe","x":17.90,"y":18},{"s":"FeSe","x":18.05,"y":20},{"s":"FeSe","x":18.20,"y":19},{"s":"FeSe","x":18.35,"y":20},{"s":"FeSe","x":18.50,"y":19},{"s":"FeSe","x":18.65,"y":21},{"s":"FeSe","x":18.80,"y":19},{"s":"FeSe","x":18.95,"y":20},{"s":"FeSe","x":19.10,"y":19},{"s":"FeSe","x":19.25,"y":21},{"s":"FeSe","x":19.40,"y":20},{"s":"FeSe","x":19.55,"y":21},{"s":"FeSe","x":19.70,"y":20},{"s":"FeSe","x":19.85,"y":21},{"s":"FeSe","x":20.00,"y":20},{"s":"FeSe","x":20.15,"y":22},{"s":"FeSe","x":20.30,"y":20},{"s":"FeSe","x":20.45,"y":21},{"s":"FeSe","x":20.60,"y":20},{"s":"FeSe","x":20.75,"y":22},{"s":"FeSe","x":20.90,"y":21},{"s":"FeSe","x":21.05,"y":22},{"s":"FeSe","x":21.20,"y":21},{"s":"FeSe","x":21.35,"y":23},{"s":"FeSe","x":21.50,"y":21},{"s":"FeSe","x":21.65,"y":22},{"s":"FeSe","x":21.80,"y":21},{"s":"FeSe","x":21.95,"y":23},{"s":"FeSe","x":22.10,"y":22},{"s":"FeSe","x":22.25,"y":23},{"s":"FeSe","x":22.40,"y":21},{"s":"FeSe","x":22.55,"y":23},{"s":"FeSe","x":22.70,"y":22},{"s":"FeSe","x":22.85,"y":23},{"s":"FeSe","x":23.00,"y":22},{"s":"FeSe","x":23.15,"y":24},{"s":"FeSe","x":23.30,"y":22},{"s":"FeSe","x":23.45,"y":23},{"s":"FeSe","x":23.60,"y":22},{"s":"FeSe","x":23.75,"y":24},{"s":"FeSe","x":23.90,"y":23},{"s":"FeSe","x":24.05,"y":24},{"s":"FeSe","x":24.20,"y":23},{"s":"FeSe","x":24.35,"y":25},{"s":"FeSe","x":24.50,"y":23},{"s":"FeSe","x":24.65,"y":24},{"s":"FeSe","x":24.80,"y":23},{"s":"FeSe","x":24.95,"y":25},{"s":"FeSe","x":25.10,"y":24},{"s":"FeSe","x":25.25,"y":25},{"s":"FeSe","x":25.40,"y":24},{"s":"FeSe","x":25.55,"y":26},{"s":"FeSe","x":25.70,"y":24},{"s":"FeSe","x":25.85,"y":25},{"s":"FeSe","x":26.00,"y":24},{"s":"FeSe","x":26.15,"y":26},{"s":"FeSe","x":26.30,"y":25},{"s":"FeSe","x":26.45,"y":26},{"s":"FeSe","x":26.60,"y":24},{"s":"FeSe","x":26.75,"y":26},{"s":"FeSe","x":26.90,"y":25},{"s":"FeSe","x":27.05,"y":27},{"s":"FeSe","x":27.20,"y":25},{"s":"FeSe","x":27.35,"y":26},{"s":"FeSe","x":27.50,"y":25},{"s":"FeSe","x":27.65,"y":27},{"s":"FeSe","x":27.80,"y":26},{"s":"FeSe","x":27.95,"y":27},{"s":"FeSe","x":28.10,"y":26},{"s":"FeSe","x":28.25,"y":28},{"s":"FeSe","x":28.40,"y":27},{"s":"FeSe","x":28.50,"y":29},{"s":"FeSe","x":28.58,"y":34},{"s":"FeSe","x":28.64,"y":50},{"s":"FeSe","x":28.69,"y":80},{"s":"FeSe","x":28.73,"y":100},{"s":"FeSe","x":28.76,"y":107},{"s":"FeSe","x":28.79,"y":100},{"s":"FeSe","x":28.83,"y":78},{"s":"FeSe","x":28.88,"y":48},{"s":"FeSe","x":28.94,"y":32},{"s":"FeSe","x":29.00,"y":28},{"s":"FeSe","x":29.10,"y":26},{"s":"FeSe","x":29.25,"y":27},{"s":"FeSe","x":29.40,"y":25},{"s":"FeSe","x":29.55,"y":26},{"s":"FeSe","x":29.70,"y":24},{"s":"FeSe","x":29.85,"y":26},{"s":"FeSe","x":30.00,"y":25}
    ],
    "peaks": [
      {"x":3.74,"y":648.7,"t":"002"},{"x":4.93,"y":637,"t":"003"},{"x":6.39,"y":615.3,"t":"004"},{"x":7.95,"y":612,"t":"005"},{"x":9.53,"y":611.3,"t":"006"},{"x":11.18,"y":610.3,"t":"007"},{"x":12.77,"y":605,"t":"008"},{"x":14.33,"y":604,"t":"009"},{"x":24.79,"y":597,"t":"Li₂Se"},{"x":27.81,"y":584,"t":"FeSe"},{"x":29.23,"y":592,"t":"Li₂Se"},
      {"x":3.84,"y":550.3,"t":"001"},{"x":5.93,"y":522,"t":"002"},{"x":8.85,"y":498.7,"t":"003"},{"x":11.78,"y":450.3,"t":"004"},{"x":14.70,"y":433.7,"t":"005"},
      {"x":4.02,"y":368,"t":"001"},{"x":7.64,"y":272,"t":"002"},{"x":11.35,"y":257,"t":"003"},
      {"x":16.30,"y":62,"t":"001"},{"x":27.93,"y":74,"t":"101"}
    ],
    "names_it": [
      {"s":"n18 label","x":24.52,"y":667,"t":"n"},{"s":"n8 label","x":24.42,"y":445,"t":"n"},{"s":"n6 label","x":24.42,"y":264,"t":"n"}
    ],
    "names_rm": [
      {"s":"n18 label","x":25.72,"y":667,"t":"= 18"},{"s":"n8 label","x":25.61,"y":445,"t":"= 8"},{"s":"n6 label","x":25.61,"y":264,"t":"= 6"},{"s":"FeSe label","x":24.52,"y":127,"t":"FeSe"}
    ],
    "title_main": [
      {"x":12.25,"t":"Li"},{"x":14.54,"t":"(C"},{"x":17.11,"t":"H"},{"x":21.03,"t":"N)"},{"x":23.64,"t":"Fe"},{"x":27.09,"t":"Se"}
    ],
    "title_sub": [
      {"x":18.54,"t":"2"},{"x":19.74,"t":"+3"},{"x":25.62,"t":"1-"}
    ],
    "title_sub_it": [
      {"x":14.00,"t":"x"},{"x":16.51,"t":"n"},{"x":19.14,"t":"n"},{"x":23.11,"t":"y"},{"x":26.62,"t":"z"}
    ]
  },
  "resolve": {"axis": {"x": "independent", "y": "independent"}},
  "layer": [
    {
      "data": {"name": "xrd"},
      "mark": {"type": "line", "strokeWidth": 1.4, "interpolate": "linear"},
      "encoding": {
        "x": {"field": "x", "type": "quantitative", "scale": {"domain": [3, 30], "nice": false, "zero": false},
          "axis": {"orient": "bottom", "values": [5, 10, 15, 20, 25, 30], "labelExpr": "datum.value % 10 === 0 ? datum.label : ''",
            "tickSize": -7, "labelFontSize": 28, "labelPadding": 42, "labelBaseline": "alphabetic", "labelFlush": false,
            "title": "2θ (deg.)", "titleFontSize": 38, "titleX": 265, "titleY": 76, "titleAlign": "center", "titleBaseline": "alphabetic"}},
        "y": {"field": "y", "type": "quantitative", "scale": {"domain": [0, 777], "nice": false, "zero": false},
          "axis": {"orient": "left", "values": [6, 184, 362, 540, 718], "labels": false, "tickSize": -8,
            "title": "Intensity\u00a0\u00a0(arb. units)", "titleFontSize": 42, "titleX": -29, "titleY": 402, "titleAngle": 270, "titleAlign": "center", "titleBaseline": "alphabetic"}},
        "color": {"field": "s", "type": "nominal", "legend": null,
          "scale": {"domain": ["n18", "n8", "n6", "FeSe", "n18 label", "n8 label", "n6 label", "FeSe label"],
                    "range": ["#12891a", "#0000ff", "#ff0000", "#000000", "#4b6f2e", "#4848f0", "#ff0000", "#000000"]}}
      }
    },
    {
      "data": {"name": "peaks"},
      "mark": {"type": "text", "angle": 270, "align": "left", "baseline": "middle", "fontSize": 20, "font": "Liberation Serif", "color": "#000"},
      "encoding": {
        "x": {"field": "x", "type": "quantitative", "axis": {"orient": "top", "values": [5, 10, 15, 20, 25], "labels": false, "tickSize": -8, "title": null}},
        "y": {"field": "y", "type": "quantitative", "axis": {"orient": "right", "values": [6, 184, 362, 540, 718], "labels": false, "tickSize": -8, "title": null}},
        "text": {"field": "t"}
      }
    },
    {
      "data": {"name": "names_it"},
      "mark": {"type": "text", "align": "left", "baseline": "alphabetic", "fontSize": 32, "fontStyle": "italic", "font": "Liberation Serif"},
      "encoding": {
        "x": {"field": "x", "type": "quantitative", "axis": null},
        "y": {"field": "y", "type": "quantitative", "axis": null},
        "color": {"field": "s", "type": "nominal", "legend": null},
        "text": {"field": "t"}
      }
    },
    {
      "data": {"name": "names_rm"},
      "mark": {"type": "text", "align": "left", "baseline": "alphabetic", "fontSize": 32, "font": "Liberation Serif"},
      "encoding": {
        "x": {"field": "x", "type": "quantitative", "axis": null},
        "y": {"field": "y", "type": "quantitative", "axis": null},
        "color": {"field": "s", "type": "nominal", "legend": null},
        "text": {"field": "t"}
      }
    },
    {
      "data": {"name": "title_main"},
      "mark": {"type": "text", "align": "left", "baseline": "alphabetic", "fontSize": 36, "font": "Liberation Serif", "color": "#000"},
      "encoding": {
        "x": {"field": "x", "type": "quantitative", "axis": null},
        "y": {"datum": 737, "type": "quantitative", "axis": null},
        "text": {"field": "t"}
      }
    },
    {
      "data": {"name": "title_sub"},
      "mark": {"type": "text", "align": "left", "baseline": "alphabetic", "fontSize": 22, "font": "Liberation Serif", "color": "#000"},
      "encoding": {
        "x": {"field": "x", "type": "quantitative", "axis": null},
        "y": {"datum": 730, "type": "quantitative", "axis": null},
        "text": {"field": "t"}
      }
    },
    {
      "data": {"name": "title_sub_it"},
      "mark": {"type": "text", "align": "left", "baseline": "alphabetic", "fontSize": 22, "fontStyle": "italic", "font": "Liberation Serif", "color": "#000"},
      "encoding": {
        "x": {"field": "x", "type": "quantitative", "axis": null},
        "y": {"datum": 730, "type": "quantitative", "axis": null},
        "text": {"field": "t"}
      }
    }
  ]
}
